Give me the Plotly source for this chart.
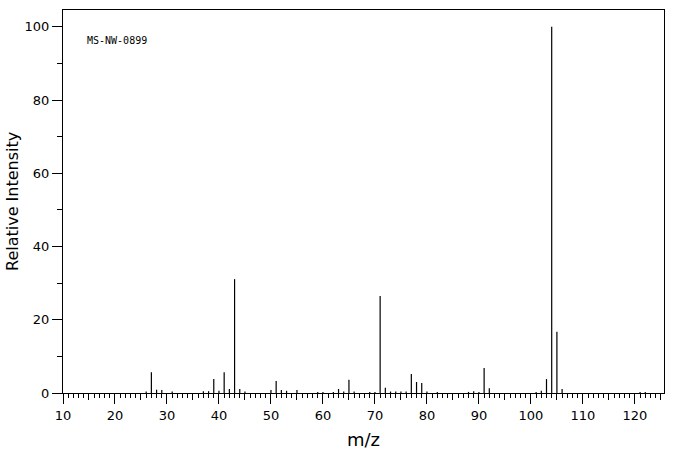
import plotly.graph_objects as go

mz = [26, 27, 28, 29, 31, 37, 38, 39, 40, 41, 42, 43, 44, 45,
      50, 51, 52, 53, 55, 59, 60, 62, 63, 64, 65, 66, 69, 70, 71,
      72, 73, 74, 75, 76, 77, 78, 79, 80, 82, 88, 89, 90, 91, 92,
      101, 102, 103, 104, 105, 106, 121, 122]
intensity = [0.4, 5.7, 0.9, 0.8, 0.4, 0.5, 0.5, 3.8, 0.6, 5.7, 1.1, 31.1, 1.1, 0.4,
             0.8, 3.3, 0.8, 0.6, 0.8, 0.3, 0.3, 0.3, 1.1, 0.4, 3.6, 0.4, 0.3, 0.3, 26.5,
             1.4, 0.4, 0.4, 0.4, 0.4, 5.2, 3.0, 2.7, 0.4, 0.3, 0.3, 0.5, 0.3, 6.8, 1.3,
             0.3, 0.6, 3.8, 100.0, 16.7, 1.1, 0.3, 0.3]
label_text = "MS-NW-0899"
x_title = "m/z"
y_title = "Relative Intensity"

xs, ys = [], []
for m, v in zip(mz, intensity):
    xs += [m, m, None]
    ys += [0, v, None]

fig = go.Figure()
fig.add_trace(go.Scatter(x=xs, y=ys, mode="lines",
                         line=dict(color="black", width=1.2),
                         hoverinfo="skip", showlegend=False))
fig.add_trace(go.Scatter(x=[10], y=[0], xaxis="x2", mode="markers",
                         marker=dict(opacity=0), showlegend=False, hoverinfo="skip"))

font = dict(family="DejaVu Sans", size=13, color="black")
xr = [10, 125.6]
fig.update_layout(
    width=676, height=455,
    margin=dict(l=63, r=12, t=10, b=62),
    paper_bgcolor="white", plot_bgcolor="white",
    font=font,
    xaxis=dict(range=xr, tickmode="linear", tick0=10, dtick=10, automargin=False,
               ticks="outside", ticklen=10, tickwidth=1, tickcolor="black",
               showline=True, linecolor="black", linewidth=1, mirror=True,
               showgrid=False, zeroline=False,
               minor=dict(tickmode="linear", tick0=10, dtick=1, ticks="outside",
                          ticklen=4, tickwidth=1, tickcolor="black", showgrid=False)),
    xaxis2=dict(range=xr, overlaying="x", anchor="y", side="bottom", automargin=False,
                tickmode="linear", tick0=15, dtick=10, ticks="outside", ticklen=6,
                tickwidth=1, tickcolor="black", showticklabels=False,
                showline=False, showgrid=False, zeroline=False),
    yaxis=dict(range=[0, 104.6], tickmode="linear", tick0=0, dtick=20, automargin=False,
               ticks="outside", ticklen=10, tickwidth=1, tickcolor="black",
               showline=True, linecolor="black", linewidth=1, mirror=True,
               showgrid=False, zeroline=False,
               minor=dict(tickmode="linear", tick0=0, dtick=10, ticks="outside",
                          ticklen=5, tickwidth=1, tickcolor="black", showgrid=False)),
    annotations=[
        dict(text=label_text, xref="paper", yref="paper",
             x=0.037, y=0.92, xanchor="left", yanchor="middle", showarrow=False,
             font=dict(family="DejaVu Sans Mono", size=10, color="black")),
        dict(text=x_title, xref="paper", yref="paper", x=0.5, y=-0.122,
             xanchor="center", yanchor="middle", showarrow=False,
             font=dict(family="DejaVu Sans", size=18, color="black")),
        dict(text=y_title, xref="paper", yref="paper", x=-0.084, y=0.5,
             xanchor="center", yanchor="middle", showarrow=False, textangle=-90,
             font=dict(family="DejaVu Sans", size=16, color="black")),
    ],
)

fig.write_html("out.html", config={"displayModeBar": False},
               post_script="document.body.style.margin='0';document.body.style.overflow='hidden';")
